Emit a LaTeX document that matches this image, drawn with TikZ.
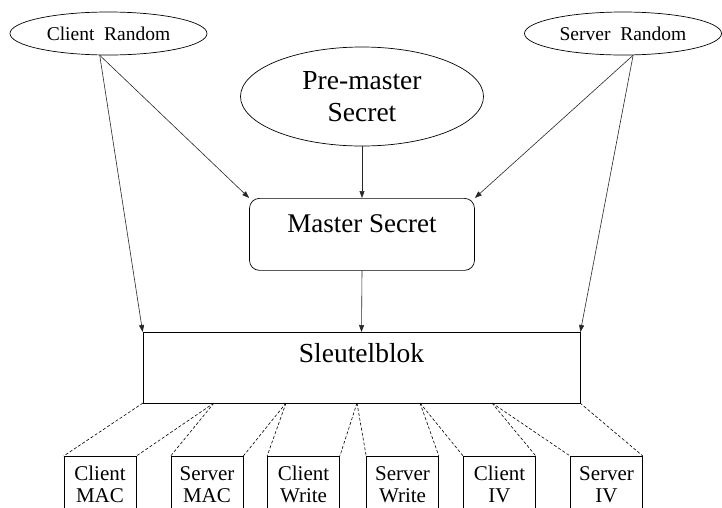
\documentclass[tikz,border=0pt]{standalone}
\usepackage{fontspec}
\setmainfont{Liberation Serif}
\usetikzlibrary{arrows.meta, shapes.geometric}

\begin{document}
\begin{tikzpicture}[x=1pt, y=-1pt, line width=0.7pt,
  rnd/.style={ellipse, draw, inner sep=0pt, minimum width=197pt, minimum height=43pt,
    font=\fontsize{19.5}{22}\selectfont},
  blok/.style={draw, inner sep=8pt, font=\fontsize{27}{32}\selectfont},
  sleutel/.style={draw, inner xsep=1pt, inner ysep=9pt, text width=70pt, align=center,
    text height=15pt, text depth=31pt, font=\fontsize{21}{22}\selectfont},
  pijl/.style={-{Triangle[length=7pt,width=5pt]}, line width=0.6pt, black!85},
  deel/.style={densely dashed, line width=0.6pt}]
  \useasboundingbox (0,0) rectangle (722,507);
  \clip (0,0) rectangle (722,507);

  % inputs
  \node[rnd] (cr) at (108.5,33.5) {Client~~Random};
  \node[rnd] (sr) at (623,33.5) {Server~~Random};
  \node[ellipse, draw, inner sep=0pt, minimum width=243pt, minimum height=99pt,
    align=center, font=\fontsize{27.5}{32}\selectfont] (pm) at (362,96.5) {Pre-master\\Secret};

  % master secret and key block
  \node[blok, rounded corners=10pt, anchor=north, minimum width=225pt,
    text height=26pt, text depth=30pt] (ms) at (362,198) {Master Secret};
  \node[blok, anchor=north, minimum width=437pt, font=\fontsize{27.5}{32}\selectfont,
    text height=22pt, text depth=33pt] (sb) at (361.5,332) {Sleutelblok};

  \draw[pijl] (cr.248) -- (ms.north west);
  \draw[pijl] (cr.248) -- (sb.north west);
  \draw[pijl] (sr.295) -- (ms.north east);
  \draw[pijl] (sr.295) -- (sb.north east);
  \draw[pijl] (pm.south) -- (ms.north);
  \draw[pijl] (ms.south) -- (sb.north);

  % split points on the bottom edge of the key block
  \foreach \x [count=\i from 0] in {143,214,286,357,420,492,580}
    \coordinate (d\i) at (\x,403);

  % derived keys
  \foreach \x/\t [count=\i] in {100/{Client\\MAC}, 207/{Server\\MAC}, 303.5/{Client\\Write},
      402.5/{Server\\Write}, 499.5/{Client\\IV}, 606.5/{Server\\IV}} {
    \node[sleutel, anchor=north] (k\i) at (\x,456) {\t};
    \pgfmathtruncatemacro{\p}{\i-1}
    \draw[deel] (d\p) -- (k\i.north west);
    \draw[deel] (d\i) -- (k\i.north east);
  }
\end{tikzpicture}
\end{document}
